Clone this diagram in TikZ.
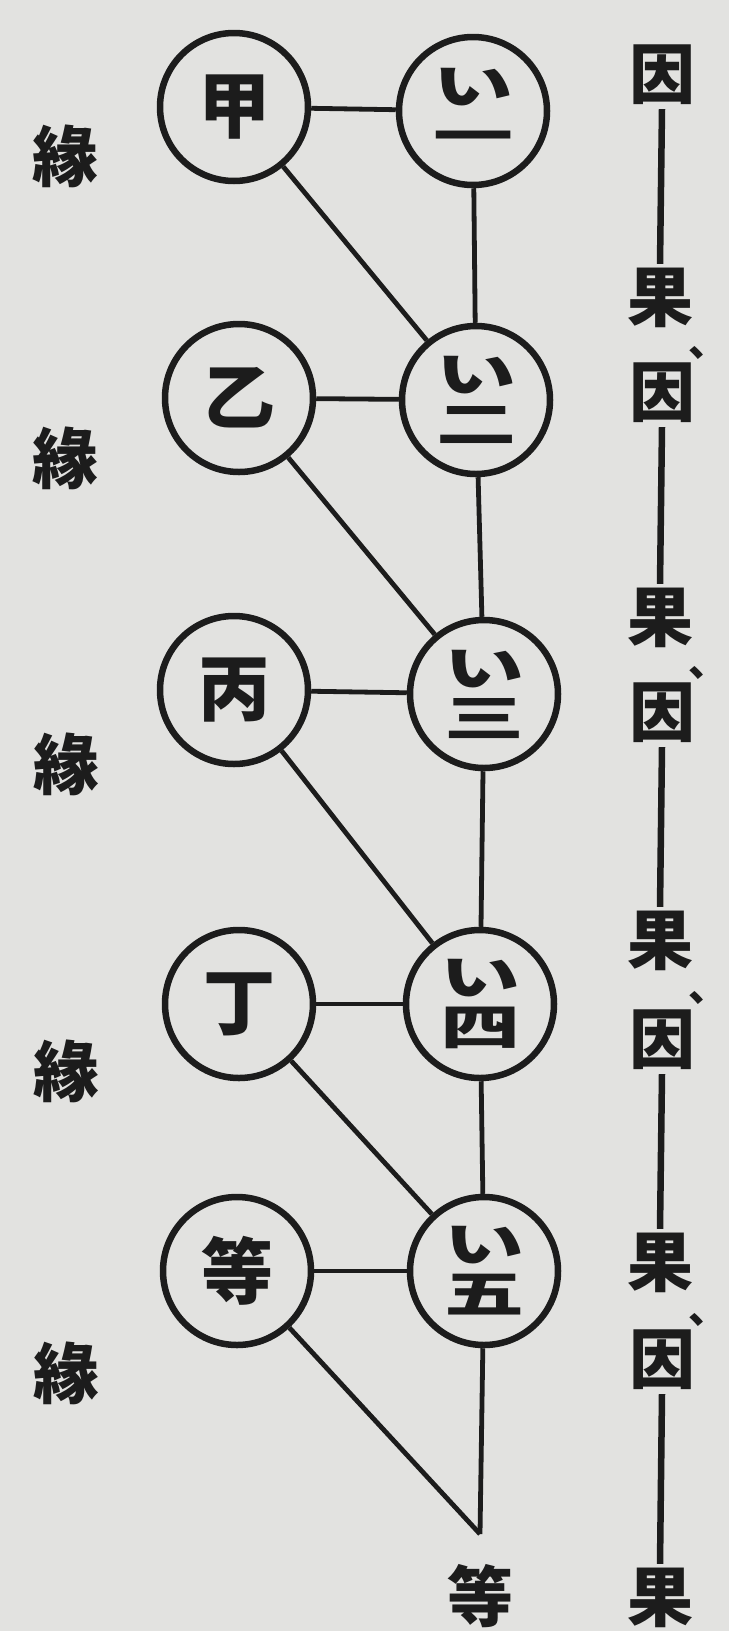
\documentclass[tikz,border=0pt]{standalone}
\usepackage{fontspec}
\usepackage{graphicx}
\newfontfamily\cjk{Noto Sans CJK JP}
\definecolor{paper}{RGB}{226,226,224}
\definecolor{ink}{RGB}{28,28,28}
\newcommand{\wide}[1]{\scalebox{1.6}[1]{#1}}
\begin{document}
\begin{tikzpicture}[x=1pt,y=-1pt,
  circ/.style={circle,draw=ink,line width=6.5pt,minimum size=148pt,inner sep=0pt},
  lchar/.style={font=\cjk\bfseries\fontsize{72}{72}\selectfont,text=ink},
  rchar/.style={font=\cjk\bfseries\fontsize{50}{50}\selectfont,text=ink,align=center},
  side/.style={font=\cjk\bfseries\fontsize{66}{66}\selectfont,text=ink,inner sep=0pt},
  comma/.style={font=\cjk\bfseries\fontsize{40}{40}\selectfont,text=ink,inner sep=0pt,anchor=base west},
  link/.style={draw=ink,line width=4.8pt},
  colline/.style={draw=ink,line width=6.5pt}]
\fill[paper] (0,0) rectangle (729,1631);
\useasboundingbox (0,0) rectangle (729,1631);
% left circles
\node[circ,lchar] (a) at (234,107) {甲};
\node[circ,lchar] (b) at (239,398) {乙};
\node[circ,lchar] (c) at (234,690) {丙};
\node[circ,lchar] (d) at (239,1004) {丁};
\node[circ,lchar] (e) at (237,1271) {等};
% right circles
\node[circ,rchar] (r1) at (473,111) {\wide{い}\\[0pt]\wide{一}};
\node[circ,rchar] (r2) at (476,400) {\wide{い}\\[0pt]\wide{二}};
\node[circ,rchar] (r3) at (484,694) {\wide{い}\\[0pt]\wide{三}};
\node[circ,rchar] (r4) at (480,1004) {\wide{い}\\[0pt]\wide{四}};
\node[circ,rchar] (r5) at (484,1271) {\wide{い}\\[0pt]\wide{五}};
\coordinate (p) at (480,1534);
\node[side] (etc) at (480,1596) {等};
% connectors
\draw[link] (a) -- (r1);
\draw[link] (b) -- (r2);
\draw[link] (c) -- (r3);
\draw[link] (d) -- (r4);
\draw[link] (e) -- (r5);
\draw[link] (a) -- (r2);
\draw[link] (b) -- (r3);
\draw[link] (c) -- (r4);
\draw[link] (d) -- (r5);
\draw[link] (r1) -- (r2);
\draw[link] (r2) -- (r3);
\draw[link] (r3) -- (r4);
\draw[link] (r4) -- (r5);
\draw[link] (r5) -- (p);
\draw[link] (e) -- (p);
% left column
\node[side] (y1) at (65,156) {緣};
\node[side] (y2) at (65,458) {緣};
\node[side] (y3) at (67,764) {緣};
\node[side] (y4) at (67,1071) {緣};
\node[side] (y5) at (67,1373) {緣};
% right column
\node[side] (i1) at (662,75) {因};
\node[side] (k1) at (660,298) {果};
\node[side] (i2) at (662,393) {因};
\node[side] (k2) at (660,618) {果};
\node[side] (i3) at (662,713) {因};
\node[side] (k3) at (660,941) {果};
\node[side] (i4) at (662,1040) {因};
\node[side] (k4) at (660,1263) {果};
\node[side] (i5) at (662,1360) {因};
\node[side] (k5) at (660,1598) {果};
\node[comma] (m1) at (688,356) {、};
\node[comma] (m2) at (688,676) {、};
\node[comma] (m3) at (688,1001) {、};
\node[comma] (m4) at (688,1323) {、};
\draw[colline] ([yshift=-4pt]i1.south) -- ([yshift=4pt]k1.north);
\draw[colline] ([yshift=-4pt]i2.south) -- ([yshift=4pt]k2.north);
\draw[colline] ([yshift=-4pt]i3.south) -- ([yshift=4pt]k3.north);
\draw[colline] ([yshift=-4pt]i4.south) -- ([yshift=4pt]k4.north);
\draw[colline] ([yshift=-4pt]i5.south) -- ([yshift=4pt]k5.north);
\end{tikzpicture}
\end{document}
